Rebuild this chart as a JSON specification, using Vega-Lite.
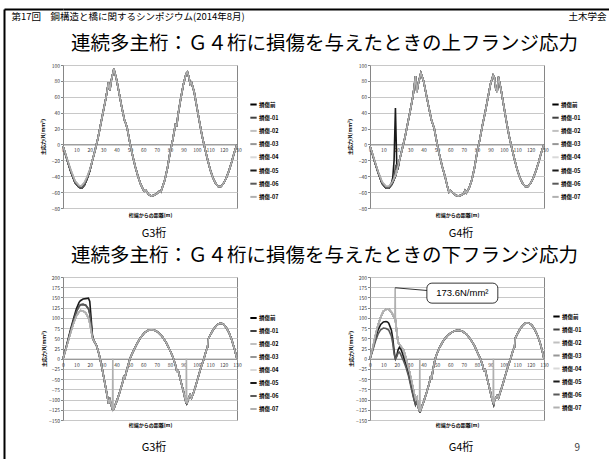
{
"$schema": "https://vega.github.io/schema/vega-lite/v6.json",
"background": "white",
"padding": {"left": 4, "top": 9, "right": 0, "bottom": 0},
"config": {
  "font": "Noto Sans CJK JP",
  "view": {"stroke": "#868686", "strokeWidth": 1},
  "axis": {"labelFontSize": 5, "labelColor": "#404040", "labelFont": "Noto Sans CJK JP", "titleFontSize": 5, "titleColor": "#000000", "titleFontWeight": "bold", "titleFont": "Noto Sans CJK JP", "gridColor": "#c8c8c8", "gridWidth": 1, "tickColor": "#868686", "domainColor": "#868686", "labelOverlap": false},
  "title": {"font": "Noto Sans CJK JP", "fontWeight": "normal", "color": "#000000"},
  "legend": {"labelFont": "Noto Sans CJK JP"}
},
"datasets": {
  "names": [{"key":"s0","name":"損傷前"},{"key":"s1","name":"損傷-01"},{"key":"s2","name":"損傷-02"},{"key":"s3","name":"損傷-03"},{"key":"s4","name":"損傷-04"},{"key":"s5","name":"損傷-05"},{"key":"s6","name":"損傷-06"},{"key":"s7","name":"損傷-07"}],
  "g3u": [
{"x":0,"s0":-2,"s1":-2,"s2":-2,"s3":-2,"s4":-2,"s5":-2,"s6":-2,"s7":-2},
{"x":3,"s0":-19,"s1":-19,"s2":-18,"s3":-18,"s4":-18,"s5":-19,"s6":-19,"s7":-18},
{"x":6,"s0":-35,"s1":-35,"s2":-33,"s3":-33,"s4":-33,"s5":-35,"s6":-35,"s7":-33},
{"x":9,"s0":-48,"s1":-48,"s2":-46,"s3":-46,"s4":-46,"s5":-48,"s6":-48,"s7":-46},
{"x":12,"s0":-54,"s1":-54,"s2":-52,"s3":-52,"s4":-52,"s5":-54,"s6":-54,"s7":-52},
{"x":14,"s0":-55,"s1":-55,"s2":-52,"s3":-52,"s4":-52,"s5":-55,"s6":-55,"s7":-52},
{"x":16,"s0":-51,"s1":-51,"s2":-48,"s3":-48,"s4":-48,"s5":-51,"s6":-51,"s7":-48},
{"x":18,"s0":-43,"s1":-43,"s2":-41,"s3":-41,"s4":-41,"s5":-43,"s6":-43,"s7":-41},
{"x":20,"s0":-33,"s1":-33,"s2":-32,"s3":-32,"s4":-32,"s5":-33,"s6":-33,"s7":-32},
{"x":22,"s0":-20,"s1":-20,"s2":-20,"s3":-20,"s4":-20,"s5":-20,"s6":-20,"s7":-20},
{"x":24,"s0":-7,"s1":-7,"s2":-7,"s3":-7,"s4":-7,"s5":-7,"s6":-7,"s7":-7},
{"x":26,"s0":7,"s1":7,"s2":7,"s3":7,"s4":7,"s5":7,"s6":7,"s7":7},
{"x":28,"s0":24,"s1":24,"s2":24,"s3":24,"s4":24,"s5":24,"s6":24,"s7":24},
{"x":30,"s0":41,"s1":41,"s2":41,"s3":41,"s4":41,"s5":41,"s6":41,"s7":41},
{"x":32,"s0":58,"s1":58,"s2":58,"s3":58,"s4":58,"s5":58,"s6":58,"s7":58},
{"x":34,"s0":78,"s1":78,"s2":78,"s3":78,"s4":78,"s5":78,"s6":78,"s7":78},
{"x":35,"s0":68,"s1":68,"s2":68,"s3":68,"s4":68,"s5":68,"s6":68,"s7":68},
{"x":36,"s0":80,"s1":80,"s2":80,"s3":80,"s4":80,"s5":80,"s6":80,"s7":80},
{"x":38,"s0":95,"s1":95,"s2":95,"s3":95,"s4":95,"s5":95,"s6":95,"s7":95},
{"x":40,"s0":82,"s1":82,"s2":82,"s3":82,"s4":82,"s5":82,"s6":82,"s7":82},
{"x":42,"s0":64,"s1":64,"s2":64,"s3":64,"s4":64,"s5":64,"s6":64,"s7":64},
{"x":44,"s0":46,"s1":46,"s2":46,"s3":46,"s4":46,"s5":46,"s6":46,"s7":46},
{"x":46,"s0":30,"s1":30,"s2":30,"s3":30,"s4":30,"s5":30,"s6":30,"s7":30},
{"x":47,"s0":26,"s1":26,"s2":26,"s3":26,"s4":26,"s5":26,"s6":26,"s7":26},
{"x":48,"s0":20,"s1":20,"s2":20,"s3":20,"s4":20,"s5":20,"s6":20,"s7":20},
{"x":50,"s0":2,"s1":2,"s2":2,"s3":2,"s4":2,"s5":2,"s6":2,"s7":2},
{"x":52,"s0":-14,"s1":-14,"s2":-14,"s3":-14,"s4":-14,"s5":-14,"s6":-14,"s7":-14},
{"x":54,"s0":-28,"s1":-28,"s2":-28,"s3":-28,"s4":-28,"s5":-28,"s6":-28,"s7":-28},
{"x":56,"s0":-40,"s1":-40,"s2":-40,"s3":-40,"s4":-40,"s5":-40,"s6":-40,"s7":-40},
{"x":58,"s0":-50,"s1":-50,"s2":-50,"s3":-50,"s4":-50,"s5":-50,"s6":-50,"s7":-50},
{"x":60,"s0":-57,"s1":-57,"s2":-57,"s3":-57,"s4":-57,"s5":-57,"s6":-57,"s7":-57},
{"x":61,"s0":-59,"s1":-59,"s2":-59,"s3":-59,"s4":-59,"s5":-59,"s6":-59,"s7":-59},
{"x":62,"s0":-58,"s1":-58,"s2":-58,"s3":-58,"s4":-58,"s5":-58,"s6":-58,"s7":-58},
{"x":64,"s0":-63,"s1":-63,"s2":-63,"s3":-63,"s4":-63,"s5":-63,"s6":-63,"s7":-63},
{"x":66,"s0":-65,"s1":-65,"s2":-65,"s3":-65,"s4":-65,"s5":-65,"s6":-65,"s7":-65},
{"x":68,"s0":-64,"s1":-64,"s2":-64,"s3":-64,"s4":-64,"s5":-64,"s6":-64,"s7":-64},
{"x":70,"s0":-62,"s1":-62,"s2":-62,"s3":-62,"s4":-62,"s5":-62,"s6":-62,"s7":-62},
{"x":72,"s0":-59,"s1":-59,"s2":-59,"s3":-59,"s4":-59,"s5":-59,"s6":-59,"s7":-59},
{"x":73,"s0":-60,"s1":-60,"s2":-60,"s3":-60,"s4":-60,"s5":-60,"s6":-60,"s7":-60},
{"x":74,"s0":-55,"s1":-55,"s2":-55,"s3":-55,"s4":-55,"s5":-55,"s6":-55,"s7":-55},
{"x":76,"s0":-45,"s1":-45,"s2":-45,"s3":-45,"s4":-45,"s5":-45,"s6":-45,"s7":-45},
{"x":78,"s0":-30,"s1":-30,"s2":-30,"s3":-30,"s4":-30,"s5":-30,"s6":-30,"s7":-30},
{"x":80,"s0":-10,"s1":-10,"s2":-10,"s3":-10,"s4":-10,"s5":-10,"s6":-10,"s7":-10},
{"x":82,"s0":6,"s1":6,"s2":6,"s3":6,"s4":6,"s5":6,"s6":6,"s7":6},
{"x":84,"s0":25,"s1":25,"s2":25,"s3":25,"s4":25,"s5":25,"s6":25,"s7":25},
{"x":85,"s0":24,"s1":24,"s2":24,"s3":24,"s4":24,"s5":24,"s6":24,"s7":24},
{"x":86,"s0":38,"s1":38,"s2":38,"s3":38,"s4":38,"s5":38,"s6":38,"s7":38},
{"x":88,"s0":58,"s1":58,"s2":58,"s3":58,"s4":58,"s5":58,"s6":58,"s7":58},
{"x":90,"s0":76,"s1":76,"s2":76,"s3":76,"s4":76,"s5":76,"s6":76,"s7":76},
{"x":92,"s0":89,"s1":89,"s2":89,"s3":89,"s4":89,"s5":89,"s6":89,"s7":89},
{"x":93,"s0":91,"s1":91,"s2":91,"s3":91,"s4":91,"s5":91,"s6":91,"s7":91},
{"x":94,"s0":85,"s1":85,"s2":85,"s3":85,"s4":85,"s5":85,"s6":85,"s7":85},
{"x":95,"s0":76,"s1":76,"s2":76,"s3":76,"s4":76,"s5":76,"s6":76,"s7":76},
{"x":96,"s0":78,"s1":78,"s2":78,"s3":78,"s4":78,"s5":78,"s6":78,"s7":78},
{"x":98,"s0":66,"s1":66,"s2":66,"s3":66,"s4":66,"s5":66,"s6":66,"s7":66},
{"x":100,"s0":47,"s1":47,"s2":47,"s3":47,"s4":47,"s5":47,"s6":47,"s7":47},
{"x":102,"s0":28,"s1":28,"s2":28,"s3":28,"s4":28,"s5":28,"s6":28,"s7":28},
{"x":104,"s0":10,"s1":10,"s2":10,"s3":10,"s4":10,"s5":10,"s6":10,"s7":10},
{"x":106,"s0":-5,"s1":-5,"s2":-5,"s3":-5,"s4":-5,"s5":-5,"s6":-5,"s7":-5},
{"x":108,"s0":-19,"s1":-19,"s2":-19,"s3":-19,"s4":-19,"s5":-19,"s6":-19,"s7":-19},
{"x":110,"s0":-32,"s1":-32,"s2":-32,"s3":-32,"s4":-32,"s5":-32,"s6":-32,"s7":-32},
{"x":112,"s0":-42,"s1":-42,"s2":-42,"s3":-42,"s4":-42,"s5":-42,"s6":-42,"s7":-42},
{"x":114,"s0":-49,"s1":-49,"s2":-49,"s3":-49,"s4":-49,"s5":-49,"s6":-49,"s7":-49},
{"x":116,"s0":-53,"s1":-53,"s2":-53,"s3":-53,"s4":-53,"s5":-53,"s6":-53,"s7":-53},
{"x":118,"s0":-53,"s1":-53,"s2":-53,"s3":-53,"s4":-53,"s5":-53,"s6":-53,"s7":-53},
{"x":120,"s0":-49,"s1":-49,"s2":-49,"s3":-49,"s4":-49,"s5":-49,"s6":-49,"s7":-49},
{"x":122,"s0":-42,"s1":-42,"s2":-42,"s3":-42,"s4":-42,"s5":-42,"s6":-42,"s7":-42},
{"x":124,"s0":-33,"s1":-33,"s2":-33,"s3":-33,"s4":-33,"s5":-33,"s6":-33,"s7":-33},
{"x":126,"s0":-22,"s1":-22,"s2":-22,"s3":-22,"s4":-22,"s5":-22,"s6":-22,"s7":-22},
{"x":128,"s0":-10,"s1":-10,"s2":-10,"s3":-10,"s4":-10,"s5":-10,"s6":-10,"s7":-10},
{"x":130,"s0":0,"s1":0,"s2":0,"s3":0,"s4":0,"s5":0,"s6":0,"s7":0}
  ],
  "g4u": [
{"x":0,"s0":-2,"s1":-2,"s2":-2,"s3":-2,"s4":-2,"s5":-2,"s6":-2,"s7":-2},
{"x":3,"s0":-19,"s1":-19,"s2":-18,"s3":-18,"s4":-18,"s5":-19,"s6":-19,"s7":-18},
{"x":6,"s0":-35,"s1":-35,"s2":-34,"s3":-34,"s4":-34,"s5":-35,"s6":-35,"s7":-34},
{"x":9,"s0":-49,"s1":-49,"s2":-47,"s3":-47,"s4":-47,"s5":-49,"s6":-49,"s7":-47},
{"x":12,"s0":-55,"s1":-55,"s2":-53,"s3":-53,"s4":-53,"s5":-55,"s6":-55,"s7":-53},
{"x":14,"s0":-55,"s1":-55,"s2":-53,"s3":-53,"s4":-53,"s5":-55,"s6":-55,"s7":-53},
{"x":16,"s0":-51,"s1":-51,"s2":-49,"s3":-49,"s4":-49,"s5":-49,"s6":-51,"s7":-49},
{"x":17,"s0":-48,"s1":-48,"s2":-46,"s3":-46,"s4":-46,"s5":-42,"s6":-47,"s7":-46},
{"x":18,"s0":-44,"s1":-44,"s2":-42,"s3":-42,"s4":-42,"s5":-20,"s6":-40,"s7":-42},
{"x":19,"s0":-40,"s1":-40,"s2":-38,"s3":-38,"s4":-38,"s5":46,"s6":-28,"s7":-38},
{"x":19.5,"s0":-37,"s1":-37,"s2":-36,"s3":-36,"s4":-36,"s5":10,"s6":-30,"s7":-36},
{"x":20,"s0":-34,"s1":-34,"s2":-33,"s3":-33,"s4":-33,"s5":-25,"s6":-25,"s7":-33},
{"x":21,"s0":-28,"s1":-28,"s2":-27,"s3":-27,"s4":-27,"s5":-29,"s6":-30,"s7":-27},
{"x":22,"s0":-20,"s1":-20,"s2":-20,"s3":-20,"s4":-20,"s5":-20,"s6":-20,"s7":-20},
{"x":24,"s0":-6,"s1":-6,"s2":-6,"s3":-6,"s4":-6,"s5":-6,"s6":-6,"s7":-6},
{"x":26,"s0":8,"s1":8,"s2":8,"s3":8,"s4":8,"s5":8,"s6":8,"s7":8},
{"x":28,"s0":25,"s1":25,"s2":25,"s3":25,"s4":25,"s5":25,"s6":25,"s7":25},
{"x":30,"s0":42,"s1":42,"s2":42,"s3":42,"s4":42,"s5":42,"s6":42,"s7":42},
{"x":32,"s0":60,"s1":60,"s2":60,"s3":60,"s4":60,"s5":60,"s6":60,"s7":60},
{"x":33,"s0":72,"s1":72,"s2":72,"s3":72,"s4":72,"s5":72,"s6":72,"s7":72},
{"x":34,"s0":86,"s1":86,"s2":86,"s3":86,"s4":86,"s5":86,"s6":86,"s7":86},
{"x":35,"s0":66,"s1":66,"s2":66,"s3":66,"s4":66,"s5":66,"s6":66,"s7":66},
{"x":36,"s0":76,"s1":76,"s2":76,"s3":76,"s4":76,"s5":76,"s6":76,"s7":76},
{"x":38,"s0":90,"s1":90,"s2":90,"s3":90,"s4":90,"s5":90,"s6":90,"s7":90},
{"x":40,"s0":80,"s1":80,"s2":80,"s3":80,"s4":80,"s5":80,"s6":80,"s7":80},
{"x":42,"s0":63,"s1":63,"s2":63,"s3":63,"s4":63,"s5":63,"s6":63,"s7":63},
{"x":44,"s0":46,"s1":46,"s2":46,"s3":46,"s4":46,"s5":46,"s6":46,"s7":46},
{"x":46,"s0":30,"s1":30,"s2":30,"s3":30,"s4":30,"s5":30,"s6":30,"s7":30},
{"x":47,"s0":25,"s1":25,"s2":25,"s3":25,"s4":25,"s5":25,"s6":25,"s7":25},
{"x":48,"s0":20,"s1":20,"s2":20,"s3":20,"s4":20,"s5":20,"s6":20,"s7":20},
{"x":50,"s0":2,"s1":2,"s2":2,"s3":2,"s4":2,"s5":2,"s6":2,"s7":2},
{"x":52,"s0":-14,"s1":-14,"s2":-14,"s3":-14,"s4":-14,"s5":-14,"s6":-14,"s7":-14},
{"x":54,"s0":-28,"s1":-28,"s2":-28,"s3":-28,"s4":-28,"s5":-28,"s6":-28,"s7":-28},
{"x":56,"s0":-40,"s1":-40,"s2":-40,"s3":-40,"s4":-40,"s5":-40,"s6":-40,"s7":-40},
{"x":58,"s0":-54,"s1":-54,"s2":-54,"s3":-54,"s4":-54,"s5":-54,"s6":-54,"s7":-54},
{"x":59,"s0":-60,"s1":-60,"s2":-60,"s3":-60,"s4":-60,"s5":-60,"s6":-60,"s7":-60},
{"x":60,"s0":-58,"s1":-58,"s2":-58,"s3":-58,"s4":-58,"s5":-58,"s6":-58,"s7":-58},
{"x":62,"s0":-61,"s1":-61,"s2":-61,"s3":-61,"s4":-61,"s5":-61,"s6":-61,"s7":-61},
{"x":64,"s0":-64,"s1":-64,"s2":-64,"s3":-64,"s4":-64,"s5":-64,"s6":-64,"s7":-64},
{"x":66,"s0":-65,"s1":-65,"s2":-65,"s3":-65,"s4":-65,"s5":-65,"s6":-65,"s7":-65},
{"x":68,"s0":-64,"s1":-64,"s2":-64,"s3":-64,"s4":-64,"s5":-64,"s6":-64,"s7":-64},
{"x":70,"s0":-62,"s1":-62,"s2":-62,"s3":-62,"s4":-62,"s5":-62,"s6":-62,"s7":-62},
{"x":71,"s0":-58,"s1":-58,"s2":-58,"s3":-58,"s4":-58,"s5":-58,"s6":-58,"s7":-58},
{"x":72,"s0":-61,"s1":-61,"s2":-61,"s3":-61,"s4":-61,"s5":-61,"s6":-61,"s7":-61},
{"x":74,"s0":-55,"s1":-55,"s2":-55,"s3":-55,"s4":-55,"s5":-55,"s6":-55,"s7":-55},
{"x":76,"s0":-45,"s1":-45,"s2":-45,"s3":-45,"s4":-45,"s5":-45,"s6":-45,"s7":-45},
{"x":78,"s0":-30,"s1":-30,"s2":-30,"s3":-30,"s4":-30,"s5":-30,"s6":-30,"s7":-30},
{"x":80,"s0":-10,"s1":-10,"s2":-10,"s3":-10,"s4":-10,"s5":-10,"s6":-10,"s7":-10},
{"x":82,"s0":6,"s1":6,"s2":6,"s3":6,"s4":6,"s5":6,"s6":6,"s7":6},
{"x":84,"s0":24,"s1":24,"s2":24,"s3":24,"s4":24,"s5":24,"s6":24,"s7":24},
{"x":86,"s0":40,"s1":40,"s2":40,"s3":40,"s4":40,"s5":40,"s6":40,"s7":40},
{"x":88,"s0":58,"s1":58,"s2":58,"s3":58,"s4":58,"s5":58,"s6":58,"s7":58},
{"x":90,"s0":76,"s1":76,"s2":76,"s3":76,"s4":76,"s5":76,"s6":76,"s7":76},
{"x":92,"s0":87,"s1":87,"s2":87,"s3":87,"s4":87,"s5":87,"s6":87,"s7":87},
{"x":93,"s0":84,"s1":84,"s2":84,"s3":84,"s4":84,"s5":84,"s6":84,"s7":84},
{"x":94,"s0":70,"s1":70,"s2":70,"s3":70,"s4":70,"s5":70,"s6":70,"s7":70},
{"x":95,"s0":66,"s1":66,"s2":66,"s3":66,"s4":66,"s5":66,"s6":66,"s7":66},
{"x":96,"s0":85,"s1":85,"s2":85,"s3":85,"s4":85,"s5":85,"s6":85,"s7":85},
{"x":98,"s0":68,"s1":68,"s2":68,"s3":68,"s4":68,"s5":68,"s6":68,"s7":68},
{"x":100,"s0":48,"s1":48,"s2":48,"s3":48,"s4":48,"s5":48,"s6":48,"s7":48},
{"x":102,"s0":28,"s1":28,"s2":28,"s3":28,"s4":28,"s5":28,"s6":28,"s7":28},
{"x":104,"s0":10,"s1":10,"s2":10,"s3":10,"s4":10,"s5":10,"s6":10,"s7":10},
{"x":106,"s0":-5,"s1":-5,"s2":-5,"s3":-5,"s4":-5,"s5":-5,"s6":-5,"s7":-5},
{"x":108,"s0":-19,"s1":-19,"s2":-19,"s3":-19,"s4":-19,"s5":-19,"s6":-19,"s7":-19},
{"x":110,"s0":-32,"s1":-32,"s2":-32,"s3":-32,"s4":-32,"s5":-32,"s6":-32,"s7":-32},
{"x":112,"s0":-42,"s1":-42,"s2":-42,"s3":-42,"s4":-42,"s5":-42,"s6":-42,"s7":-42},
{"x":114,"s0":-49,"s1":-49,"s2":-49,"s3":-49,"s4":-49,"s5":-49,"s6":-49,"s7":-49},
{"x":116,"s0":-53,"s1":-53,"s2":-53,"s3":-53,"s4":-53,"s5":-53,"s6":-53,"s7":-53},
{"x":118,"s0":-53,"s1":-53,"s2":-53,"s3":-53,"s4":-53,"s5":-53,"s6":-53,"s7":-53},
{"x":120,"s0":-49,"s1":-49,"s2":-49,"s3":-49,"s4":-49,"s5":-49,"s6":-49,"s7":-49},
{"x":122,"s0":-42,"s1":-42,"s2":-42,"s3":-42,"s4":-42,"s5":-42,"s6":-42,"s7":-42},
{"x":124,"s0":-33,"s1":-33,"s2":-33,"s3":-33,"s4":-33,"s5":-33,"s6":-33,"s7":-33},
{"x":126,"s0":-22,"s1":-22,"s2":-22,"s3":-22,"s4":-22,"s5":-22,"s6":-22,"s7":-22},
{"x":128,"s0":-10,"s1":-10,"s2":-10,"s3":-10,"s4":-10,"s5":-10,"s6":-10,"s7":-10},
{"x":130,"s0":0,"s1":0,"s2":0,"s3":0,"s4":0,"s5":0,"s6":0,"s7":0}
  ],
  "g3l": [
{"x":0,"s0":0,"s1":0,"s2":0,"s3":0,"s4":0,"s5":0,"s6":0,"s7":0},
{"x":2,"s0":22,"s1":23,"s2":22,"s3":22,"s4":22,"s5":24,"s6":23,"s7":22},
{"x":4,"s0":45,"s1":47,"s2":45,"s3":45,"s4":45,"s5":50,"s6":47,"s7":45},
{"x":6,"s0":68,"s1":72,"s2":68,"s3":68,"s4":68,"s5":76,"s6":72,"s7":68},
{"x":8,"s0":88,"s1":95,"s2":88,"s3":88,"s4":88,"s5":100,"s6":95,"s7":88},
{"x":10,"s0":105,"s1":115,"s2":105,"s3":105,"s4":105,"s5":122,"s6":115,"s7":105},
{"x":12,"s0":115,"s1":128,"s2":115,"s3":115,"s4":115,"s5":138,"s6":128,"s7":115},
{"x":13,"s0":118,"s1":132,"s2":118,"s3":118,"s4":118,"s5":142,"s6":132,"s7":118},
{"x":15,"s0":117,"s1":133,"s2":117,"s3":117,"s4":117,"s5":146,"s6":133,"s7":117},
{"x":17,"s0":112,"s1":131,"s2":112,"s3":112,"s4":112,"s5":147,"s6":131,"s7":112},
{"x":19,"s0":100,"s1":122,"s2":100,"s3":100,"s4":100,"s5":148,"s6":122,"s7":100},
{"x":20,"s0":88,"s1":110,"s2":88,"s3":88,"s4":88,"s5":140,"s6":110,"s7":88},
{"x":21,"s0":70,"s1":85,"s2":70,"s3":70,"s4":70,"s5":100,"s6":85,"s7":70},
{"x":22,"s0":52,"s1":55,"s2":52,"s3":52,"s4":52,"s5":56,"s6":55,"s7":52},
{"x":23,"s0":44,"s1":44,"s2":44,"s3":44,"s4":44,"s5":44,"s6":44,"s7":44},
{"x":25,"s0":33,"s1":33,"s2":33,"s3":33,"s4":33,"s5":33,"s6":33,"s7":33},
{"x":27,"s0":10,"s1":10,"s2":10,"s3":10,"s4":10,"s5":10,"s6":10,"s7":10},
{"x":29,"s0":-20,"s1":-20,"s2":-20,"s3":-20,"s4":-20,"s5":-20,"s6":-20,"s7":-20},
{"x":31,"s0":-55,"s1":-55,"s2":-55,"s3":-55,"s4":-55,"s5":-55,"s6":-55,"s7":-55},
{"x":33,"s0":-90,"s1":-90,"s2":-90,"s3":-90,"s4":-90,"s5":-90,"s6":-90,"s7":-90},
{"x":34,"s0":-110,"s1":-110,"s2":-110,"s3":-110,"s4":-110,"s5":-110,"s6":-110,"s7":-110},
{"x":35,"s0":-100,"s1":-100,"s2":-100,"s3":-100,"s4":-100,"s5":-100,"s6":-100,"s7":-100},
{"x":36,"s0":-113,"s1":-113,"s2":-113,"s3":-113,"s4":-113,"s5":-113,"s6":-113,"s7":-113},
{"x":37,"s0":-124,"s1":-124,"s2":-124,"s3":-124,"s4":-124,"s5":-124,"s6":-124,"s7":-124},
{"x":37.2,"s0":-125,"s1":-125,"s2":-125,"s3":-125,"s4":-125,"s5":-125,"s6":-125,"s7":0},
{"x":37.4,"s0":-125,"s1":-125,"s2":-125,"s3":-125,"s4":-125,"s5":-125,"s6":-125,"s7":-125},
{"x":38,"s0":-122,"s1":-122,"s2":-122,"s3":-122,"s4":-122,"s5":-122,"s6":-122,"s7":-122},
{"x":40,"s0":-105,"s1":-105,"s2":-105,"s3":-105,"s4":-105,"s5":-105,"s6":-105,"s7":-105},
{"x":42,"s0":-86,"s1":-86,"s2":-86,"s3":-86,"s4":-86,"s5":-86,"s6":-86,"s7":-86},
{"x":44,"s0":-64,"s1":-64,"s2":-64,"s3":-64,"s4":-64,"s5":-64,"s6":-64,"s7":-64},
{"x":45,"s0":-52,"s1":-52,"s2":-52,"s3":-52,"s4":-52,"s5":-52,"s6":-52,"s7":-52},
{"x":45.5,"s0":-42,"s1":-42,"s2":-42,"s3":-42,"s4":-42,"s5":-42,"s6":-42,"s7":-42},
{"x":46,"s0":-50,"s1":-50,"s2":-50,"s3":-50,"s4":-50,"s5":-50,"s6":-50,"s7":-50},
{"x":47,"s0":-36,"s1":-36,"s2":-36,"s3":-36,"s4":-36,"s5":-36,"s6":-36,"s7":-36},
{"x":48,"s0":-24,"s1":-24,"s2":-24,"s3":-24,"s4":-24,"s5":-24,"s6":-24,"s7":-24},
{"x":50,"s0":0,"s1":0,"s2":0,"s3":0,"s4":0,"s5":0,"s6":0,"s7":0},
{"x":52,"s0":15,"s1":15,"s2":15,"s3":15,"s4":15,"s5":15,"s6":15,"s7":15},
{"x":55,"s0":35,"s1":35,"s2":35,"s3":35,"s4":35,"s5":35,"s6":35,"s7":35},
{"x":58,"s0":52,"s1":52,"s2":52,"s3":52,"s4":52,"s5":52,"s6":52,"s7":52},
{"x":61,"s0":64,"s1":64,"s2":64,"s3":64,"s4":64,"s5":64,"s6":64,"s7":64},
{"x":64,"s0":70,"s1":70,"s2":70,"s3":70,"s4":70,"s5":70,"s6":70,"s7":70},
{"x":66,"s0":71,"s1":71,"s2":71,"s3":71,"s4":71,"s5":71,"s6":71,"s7":71},
{"x":68,"s0":70,"s1":70,"s2":70,"s3":70,"s4":70,"s5":70,"s6":70,"s7":70},
{"x":71,"s0":65,"s1":65,"s2":65,"s3":65,"s4":65,"s5":65,"s6":65,"s7":65},
{"x":74,"s0":55,"s1":55,"s2":55,"s3":55,"s4":55,"s5":55,"s6":55,"s7":55},
{"x":77,"s0":40,"s1":40,"s2":40,"s3":40,"s4":40,"s5":40,"s6":40,"s7":40},
{"x":80,"s0":20,"s1":20,"s2":20,"s3":20,"s4":20,"s5":20,"s6":20,"s7":20},
{"x":82,"s0":5,"s1":5,"s2":5,"s3":5,"s4":5,"s5":5,"s6":5,"s7":5},
{"x":84,"s0":-15,"s1":-15,"s2":-15,"s3":-15,"s4":-15,"s5":-15,"s6":-15,"s7":-15},
{"x":85,"s0":-30,"s1":-30,"s2":-30,"s3":-30,"s4":-30,"s5":-30,"s6":-30,"s7":-30},
{"x":86,"s0":-28,"s1":-28,"s2":-28,"s3":-28,"s4":-28,"s5":-28,"s6":-28,"s7":-28},
{"x":88,"s0":-55,"s1":-55,"s2":-55,"s3":-55,"s4":-55,"s5":-55,"s6":-55,"s7":-55},
{"x":90,"s0":-80,"s1":-80,"s2":-80,"s3":-80,"s4":-80,"s5":-80,"s6":-80,"s7":-80},
{"x":91,"s0":-95,"s1":-95,"s2":-95,"s3":-95,"s4":-95,"s5":-95,"s6":-95,"s7":-95},
{"x":92,"s0":-108,"s1":-108,"s2":-108,"s3":-108,"s4":-108,"s5":-108,"s6":-108,"s7":-108},
{"x":92.2,"s0":-109,"s1":-109,"s2":-109,"s3":-109,"s4":-109,"s5":-109,"s6":-109,"s7":0},
{"x":92.4,"s0":-110,"s1":-110,"s2":-110,"s3":-110,"s4":-110,"s5":-110,"s6":-110,"s7":-110},
{"x":93,"s0":-105,"s1":-105,"s2":-105,"s3":-105,"s4":-105,"s5":-105,"s6":-105,"s7":-105},
{"x":94,"s0":-95,"s1":-95,"s2":-95,"s3":-95,"s4":-95,"s5":-95,"s6":-95,"s7":-95},
{"x":95,"s0":-88,"s1":-88,"s2":-88,"s3":-88,"s4":-88,"s5":-88,"s6":-88,"s7":-88},
{"x":96,"s0":-96,"s1":-96,"s2":-96,"s3":-96,"s4":-96,"s5":-96,"s6":-96,"s7":-96},
{"x":97,"s0":-88,"s1":-88,"s2":-88,"s3":-88,"s4":-88,"s5":-88,"s6":-88,"s7":-88},
{"x":99,"s0":-68,"s1":-68,"s2":-68,"s3":-68,"s4":-68,"s5":-68,"s6":-68,"s7":-68},
{"x":101,"s0":-45,"s1":-45,"s2":-45,"s3":-45,"s4":-45,"s5":-45,"s6":-45,"s7":-45},
{"x":103,"s0":-22,"s1":-22,"s2":-22,"s3":-22,"s4":-22,"s5":-22,"s6":-22,"s7":-22},
{"x":105,"s0":-3,"s1":-3,"s2":-3,"s3":-3,"s4":-3,"s5":-3,"s6":-3,"s7":-3},
{"x":107,"s0":20,"s1":20,"s2":20,"s3":20,"s4":20,"s5":20,"s6":20,"s7":20},
{"x":108,"s0":28,"s1":28,"s2":28,"s3":28,"s4":28,"s5":28,"s6":28,"s7":28},
{"x":108.5,"s0":48,"s1":48,"s2":48,"s3":48,"s4":48,"s5":48,"s6":48,"s7":48},
{"x":110,"s0":58,"s1":58,"s2":58,"s3":58,"s4":58,"s5":58,"s6":58,"s7":58},
{"x":112,"s0":70,"s1":70,"s2":70,"s3":70,"s4":70,"s5":70,"s6":70,"s7":70},
{"x":114,"s0":79,"s1":79,"s2":79,"s3":79,"s4":79,"s5":79,"s6":79,"s7":79},
{"x":116,"s0":85,"s1":85,"s2":85,"s3":85,"s4":85,"s5":85,"s6":85,"s7":85},
{"x":118,"s0":87,"s1":87,"s2":87,"s3":87,"s4":87,"s5":87,"s6":87,"s7":87},
{"x":120,"s0":84,"s1":84,"s2":84,"s3":84,"s4":84,"s5":84,"s6":84,"s7":84},
{"x":122,"s0":76,"s1":76,"s2":76,"s3":76,"s4":76,"s5":76,"s6":76,"s7":76},
{"x":124,"s0":64,"s1":64,"s2":64,"s3":64,"s4":64,"s5":64,"s6":64,"s7":64},
{"x":126,"s0":47,"s1":47,"s2":47,"s3":47,"s4":47,"s5":47,"s6":47,"s7":47},
{"x":128,"s0":25,"s1":25,"s2":25,"s3":25,"s4":25,"s5":25,"s6":25,"s7":25},
{"x":130,"s0":0,"s1":0,"s2":0,"s3":0,"s4":0,"s5":0,"s6":0,"s7":0}
  ],
  "g4l": [
{"x":0,"s0":0,"s1":0,"s2":0,"s3":0,"s4":0,"s5":0,"s6":0,"s7":0},
{"x":2,"s0":25,"s1":25,"s2":25,"s3":25,"s4":25,"s5":22,"s6":20,"s7":25},
{"x":4,"s0":55,"s1":55,"s2":55,"s3":55,"s4":55,"s5":48,"s6":42,"s7":55},
{"x":6,"s0":82,"s1":82,"s2":82,"s3":82,"s4":82,"s5":70,"s6":60,"s7":82},
{"x":8,"s0":102,"s1":102,"s2":102,"s3":102,"s4":102,"s5":84,"s6":71,"s7":102},
{"x":10,"s0":116,"s1":116,"s2":116,"s3":116,"s4":116,"s5":90,"s6":75,"s7":116},
{"x":12,"s0":121,"s1":121,"s2":121,"s3":121,"s4":121,"s5":91,"s6":74,"s7":121},
{"x":13,"s0":122,"s1":122,"s2":122,"s3":122,"s4":122,"s5":90,"s6":72,"s7":122},
{"x":14,"s0":121,"s1":121,"s2":121,"s3":121,"s4":121,"s5":87,"s6":70,"s7":121},
{"x":16,"s0":114,"s1":114,"s2":114,"s3":114,"s4":114,"s5":70,"s6":55,"s7":114},
{"x":17,"s0":108,"s1":108,"s2":108,"s3":108,"s4":108,"s5":50,"s6":38,"s7":108},
{"x":18,"s0":100,"s1":100,"s2":100,"s3":100,"s4":100,"s5":20,"s6":12,"s7":100},
{"x":18.6,"s0":98,"s1":98,"s2":98,"s3":98,"s4":98,"s5":6,"s6":4,"s7":98},
{"x":18.8,"s0":97,"s1":97,"s2":97,"s3":97,"s4":97,"s5":3,"s6":2,"s7":173.6},
{"x":19,"s0":95,"s1":95,"s2":95,"s3":95,"s4":95,"s5":0,"s6":0,"s7":95},
{"x":20,"s0":65,"s1":65,"s2":65,"s3":65,"s4":65,"s5":8,"s6":5,"s7":65},
{"x":21,"s0":40,"s1":40,"s2":40,"s3":40,"s4":40,"s5":22,"s6":14,"s7":40},
{"x":22,"s0":35,"s1":35,"s2":35,"s3":35,"s4":35,"s5":28,"s6":16,"s7":35},
{"x":23,"s0":30,"s1":30,"s2":30,"s3":30,"s4":30,"s5":24,"s6":10,"s7":30},
{"x":24,"s0":26,"s1":26,"s2":26,"s3":26,"s4":26,"s5":15,"s6":2,"s7":26},
{"x":25,"s0":22,"s1":22,"s2":22,"s3":22,"s4":22,"s5":5,"s6":-5,"s7":22},
{"x":27,"s0":0,"s1":0,"s2":0,"s3":0,"s4":0,"s5":-18,"s6":-22,"s7":0},
{"x":29,"s0":-25,"s1":-25,"s2":-25,"s3":-25,"s4":-25,"s5":-40,"s6":-45,"s7":-25},
{"x":31,"s0":-55,"s1":-55,"s2":-55,"s3":-55,"s4":-55,"s5":-70,"s6":-75,"s7":-55},
{"x":33,"s0":-85,"s1":-85,"s2":-85,"s3":-85,"s4":-85,"s5":-100,"s6":-102,"s7":-85},
{"x":34,"s0":-100,"s1":-100,"s2":-100,"s3":-100,"s4":-100,"s5":-113,"s6":-112,"s7":-100},
{"x":35,"s0":-95,"s1":-95,"s2":-95,"s3":-95,"s4":-95,"s5":-105,"s6":-106,"s7":-95},
{"x":36,"s0":-118,"s1":-118,"s2":-118,"s3":-118,"s4":-118,"s5":-118,"s6":-118,"s7":-118},
{"x":37,"s0":-128,"s1":-128,"s2":-128,"s3":-128,"s4":-128,"s5":-128,"s6":-128,"s7":-128},
{"x":37.2,"s0":-130,"s1":-130,"s2":-130,"s3":-130,"s4":-130,"s5":-130,"s6":-130,"s7":0},
{"x":37.4,"s0":-130,"s1":-130,"s2":-130,"s3":-130,"s4":-130,"s5":-130,"s6":-130,"s7":-130},
{"x":38,"s0":-124,"s1":-124,"s2":-124,"s3":-124,"s4":-124,"s5":-124,"s6":-124,"s7":-124},
{"x":40,"s0":-106,"s1":-106,"s2":-106,"s3":-106,"s4":-106,"s5":-106,"s6":-106,"s7":-106},
{"x":42,"s0":-86,"s1":-86,"s2":-86,"s3":-86,"s4":-86,"s5":-86,"s6":-86,"s7":-86},
{"x":44,"s0":-63,"s1":-63,"s2":-63,"s3":-63,"s4":-63,"s5":-63,"s6":-63,"s7":-63},
{"x":45,"s0":-50,"s1":-50,"s2":-50,"s3":-50,"s4":-50,"s5":-50,"s6":-50,"s7":-50},
{"x":45.5,"s0":-40,"s1":-40,"s2":-40,"s3":-40,"s4":-40,"s5":-40,"s6":-40,"s7":-40},
{"x":46,"s0":-50,"s1":-50,"s2":-50,"s3":-50,"s4":-50,"s5":-50,"s6":-50,"s7":-50},
{"x":47,"s0":-28,"s1":-28,"s2":-28,"s3":-28,"s4":-28,"s5":-28,"s6":-28,"s7":-28},
{"x":48,"s0":-10,"s1":-10,"s2":-10,"s3":-10,"s4":-10,"s5":-10,"s6":-10,"s7":-10},
{"x":49,"s0":3,"s1":3,"s2":3,"s3":3,"s4":3,"s5":3,"s6":3,"s7":3},
{"x":50,"s0":12,"s1":12,"s2":12,"s3":12,"s4":12,"s5":12,"s6":12,"s7":12},
{"x":52,"s0":28,"s1":28,"s2":28,"s3":28,"s4":28,"s5":28,"s6":28,"s7":28},
{"x":55,"s0":45,"s1":45,"s2":45,"s3":45,"s4":45,"s5":45,"s6":45,"s7":45},
{"x":58,"s0":57,"s1":57,"s2":57,"s3":57,"s4":57,"s5":57,"s6":57,"s7":57},
{"x":60,"s0":62,"s1":62,"s2":62,"s3":62,"s4":62,"s5":62,"s6":62,"s7":62},
{"x":63,"s0":68,"s1":68,"s2":68,"s3":68,"s4":68,"s5":68,"s6":68,"s7":68},
{"x":66,"s0":70,"s1":70,"s2":70,"s3":70,"s4":70,"s5":70,"s6":70,"s7":70},
{"x":69,"s0":67,"s1":67,"s2":67,"s3":67,"s4":67,"s5":67,"s6":67,"s7":67},
{"x":72,"s0":60,"s1":60,"s2":60,"s3":60,"s4":60,"s5":60,"s6":60,"s7":60},
{"x":75,"s0":48,"s1":48,"s2":48,"s3":48,"s4":48,"s5":48,"s6":48,"s7":48},
{"x":78,"s0":32,"s1":32,"s2":32,"s3":32,"s4":32,"s5":32,"s6":32,"s7":32},
{"x":81,"s0":10,"s1":10,"s2":10,"s3":10,"s4":10,"s5":10,"s6":10,"s7":10},
{"x":82.5,"s0":0,"s1":0,"s2":0,"s3":0,"s4":0,"s5":0,"s6":0,"s7":0},
{"x":84,"s0":-15,"s1":-15,"s2":-15,"s3":-15,"s4":-15,"s5":-15,"s6":-15,"s7":-15},
{"x":85,"s0":-28,"s1":-28,"s2":-28,"s3":-28,"s4":-28,"s5":-28,"s6":-28,"s7":-28},
{"x":86,"s0":-26,"s1":-26,"s2":-26,"s3":-26,"s4":-26,"s5":-26,"s6":-26,"s7":-26},
{"x":88,"s0":-55,"s1":-55,"s2":-55,"s3":-55,"s4":-55,"s5":-55,"s6":-55,"s7":-55},
{"x":90,"s0":-82,"s1":-82,"s2":-82,"s3":-82,"s4":-82,"s5":-82,"s6":-82,"s7":-82},
{"x":91,"s0":-97,"s1":-97,"s2":-97,"s3":-97,"s4":-97,"s5":-97,"s6":-97,"s7":-97},
{"x":92,"s0":-108,"s1":-108,"s2":-108,"s3":-108,"s4":-108,"s5":-108,"s6":-108,"s7":-108},
{"x":92.2,"s0":-110,"s1":-110,"s2":-110,"s3":-110,"s4":-110,"s5":-110,"s6":-110,"s7":0},
{"x":92.4,"s0":-112,"s1":-112,"s2":-112,"s3":-112,"s4":-112,"s5":-112,"s6":-112,"s7":-112},
{"x":93,"s0":-102,"s1":-102,"s2":-102,"s3":-102,"s4":-102,"s5":-102,"s6":-102,"s7":-102},
{"x":94,"s0":-95,"s1":-95,"s2":-95,"s3":-95,"s4":-95,"s5":-95,"s6":-95,"s7":-95},
{"x":95,"s0":-90,"s1":-90,"s2":-90,"s3":-90,"s4":-90,"s5":-90,"s6":-90,"s7":-90},
{"x":96,"s0":-96,"s1":-96,"s2":-96,"s3":-96,"s4":-96,"s5":-96,"s6":-96,"s7":-96},
{"x":97,"s0":-85,"s1":-85,"s2":-85,"s3":-85,"s4":-85,"s5":-85,"s6":-85,"s7":-85},
{"x":99,"s0":-65,"s1":-65,"s2":-65,"s3":-65,"s4":-65,"s5":-65,"s6":-65,"s7":-65},
{"x":101,"s0":-42,"s1":-42,"s2":-42,"s3":-42,"s4":-42,"s5":-42,"s6":-42,"s7":-42},
{"x":103,"s0":-20,"s1":-20,"s2":-20,"s3":-20,"s4":-20,"s5":-20,"s6":-20,"s7":-20},
{"x":105,"s0":0,"s1":0,"s2":0,"s3":0,"s4":0,"s5":0,"s6":0,"s7":0},
{"x":107,"s0":22,"s1":22,"s2":22,"s3":22,"s4":22,"s5":22,"s6":22,"s7":22},
{"x":108,"s0":28,"s1":28,"s2":28,"s3":28,"s4":28,"s5":28,"s6":28,"s7":28},
{"x":108.5,"s0":50,"s1":50,"s2":50,"s3":50,"s4":50,"s5":50,"s6":50,"s7":50},
{"x":110,"s0":60,"s1":60,"s2":60,"s3":60,"s4":60,"s5":60,"s6":60,"s7":60},
{"x":112,"s0":72,"s1":72,"s2":72,"s3":72,"s4":72,"s5":72,"s6":72,"s7":72},
{"x":114,"s0":81,"s1":81,"s2":81,"s3":81,"s4":81,"s5":81,"s6":81,"s7":81},
{"x":116,"s0":87,"s1":87,"s2":87,"s3":87,"s4":87,"s5":87,"s6":87,"s7":87},
{"x":117,"s0":88,"s1":88,"s2":88,"s3":88,"s4":88,"s5":88,"s6":88,"s7":88},
{"x":119,"s0":87,"s1":87,"s2":87,"s3":87,"s4":87,"s5":87,"s6":87,"s7":87},
{"x":121,"s0":82,"s1":82,"s2":82,"s3":82,"s4":82,"s5":82,"s6":82,"s7":82},
{"x":123,"s0":72,"s1":72,"s2":72,"s3":72,"s4":72,"s5":72,"s6":72,"s7":72},
{"x":125,"s0":58,"s1":58,"s2":58,"s3":58,"s4":58,"s5":58,"s6":58,"s7":58},
{"x":127,"s0":40,"s1":40,"s2":40,"s3":40,"s4":40,"s5":40,"s6":40,"s7":40},
{"x":129,"s0":15,"s1":15,"s2":15,"s3":15,"s4":15,"s5":15,"s6":15,"s7":15},
{"x":130,"s0":0,"s1":0,"s2":0,"s3":0,"s4":0,"s5":0,"s6":0,"s7":0}
  ],
  "callout": [{"x": 18.8, "y": 173.6, "bx": 42.5, "by": 167, "x1": 42.5, "x2": 95.5, "y1": 136, "y2": 185, "tx": 69, "ty": 160.5, "label": "173.6N/mm²"}]
},
"bounds": "flush",
"spacing": 0,
"hconcat": [
  {
    "width": 59, "height": 450,
    "view": {"stroke": null},
    "data": {"values": []},
    "mark": "point",
    "encoding": {
      "x": {"field": "fx", "type": "quantitative", "scale": {"domain": [0, 1]}, "axis": {"orient": "top", "domain": true, "domainColor": "#000000", "domainWidth": 2, "ticks": false, "labels": false, "grid": false, "title": "第17回　鋼構造と橋に関するシンポジウム(2014年8月)", "titleX": 7, "titleY": 7, "titleAlign": "left", "titleAngle": 0, "titleBaseline": "middle", "titleFontSize": 9.5, "titleFontWeight": "normal", "titleLimit": 1000}},
      "y": {"field": "fy", "type": "quantitative", "scale": {"domain": [0, 1]}, "axis": {"orient": "left", "domain": true, "domainColor": "#000000", "domainWidth": 2, "ticks": false, "labels": false, "grid": false, "title": null}}
    }
  },
  {
    "spacing": 0,
    "bounds": "flush",
    "vconcat": [
      {
        "width": 546, "height": 0.01,
        "view": {"stroke": null},
        "data": {"values": []},
        "mark": "point",
        "encoding": {
          "x": {"field": "fx", "type": "quantitative", "scale": {"domain": [0, 1]}, "axis": {"orient": "top", "domain": true, "domainColor": "#000000", "domainWidth": 2, "ticks": false, "labels": false, "grid": false, "title": "土木学会", "titleX": 543, "titleY": 7, "titleAlign": "right", "titleAngle": 0, "titleBaseline": "middle", "titleFontSize": 9.5, "titleFontWeight": "normal", "titleLimit": 1000}}
        }
      },
      {
        "columns": 2,
        "spacing": {"row": 33, "column": 133},
        "bounds": "flush",
        "resolve": {"scale": {"color": "independent"}, "legend": {"color": "independent"}},
        "concat": [
          {"width": 174, "height": 22, "view": {"stroke": null}, "data": {"values": []}, "mark": "point",
           "title": {"text": "連続多主桁：Ｇ４桁に損傷を与えたときの上フランジ応力", "anchor": "start", "frame": "group", "orient": "bottom", "offset": 12, "dx": 8, "baseline": "middle", "fontSize": 19.5}},
          {"width": 174, "height": 22, "view": {"stroke": null}, "data": {"values": []}, "mark": "point"},
          {
            "width": 174, "height": 143,
            "data": {"name": "g3u"},
            "transform": [{"fold": ["s0","s1","s2","s3","s4","s5","s6","s7"], "as": ["key", "value"]}, {"lookup": "key", "from": {"data": {"name": "names"}, "key": "key", "fields": ["name"]}}],
            "mark": {"type": "line", "strokeWidth": 1.6},
            "encoding": {
              "x": {"field": "x", "type": "quantitative", "scale": {"domain": [0, 130], "nice": false, "zero": false}, "axis": {"values": [0,10,20,30,40,50,60,70,80,90,100,110,120,130], "offset": -63.6, "grid": false, "ticks": false, "domain": true, "labelPadding": 3, "labelFlush": false, "labelOverlap": false, "title": "桁端からの距離(m)", "titleY": 69.6, "titleBaseline": "middle"}},
              "y": {"field": "value", "type": "quantitative", "scale": {"domain": [-80, 100], "nice": false, "zero": false}, "axis": {"values": [-80,-60,-40,-20,0,20,40,60,80,100], "grid": true, "tickSize": 2.5, "domain": false, "labelPadding": 1, "labelOverlap": false, "title": "主応力(N/mm²)", "titleX": -21, "titleBaseline": "middle", "titleAngle": -90}},
              "color": {"field": "name", "type": "nominal", "scale": {"domain": ["損傷前","損傷-01","損傷-02","損傷-03","損傷-04","損傷-05","損傷-06","損傷-07"], "range": ["#000000","#404040","#c0c0c0","#969696","#d9d9d9","#1a1a1a","#595959","#b0b0b0"]}, "legend": {"orient": "none", "legendX": 186, "legendY": 35, "title": null, "symbolType": "stroke", "symbolSize": 40, "symbolStrokeWidth": 2, "labelFontSize": 5.5, "labelFontWeight": "bold", "labelColor": "#000000", "rowPadding": 4.2, "labelOffset": 1, "padding": 0}}
            },
            "title": {"text": "G3桁", "orient": "bottom", "anchor": "middle", "frame": "group", "dx": 4, "offset": 17, "baseline": "middle", "fontSize": 11}
          },
          {
            "width": 174, "height": 143,
            "data": {"name": "g4u"},
            "transform": [{"fold": ["s0","s1","s2","s3","s4","s5","s6","s7"], "as": ["key", "value"]}, {"lookup": "key", "from": {"data": {"name": "names"}, "key": "key", "fields": ["name"]}}],
            "mark": {"type": "line", "strokeWidth": 1.6},
            "encoding": {
              "x": {"field": "x", "type": "quantitative", "scale": {"domain": [0, 130], "nice": false, "zero": false}, "axis": {"values": [0,10,20,30,40,50,60,70,80,90,100,110,120,130], "offset": -63.6, "grid": false, "ticks": false, "domain": true, "labelPadding": 3, "labelFlush": false, "labelOverlap": false, "title": "桁端からの距離(m)", "titleY": 69.6, "titleBaseline": "middle"}},
              "y": {"field": "value", "type": "quantitative", "scale": {"domain": [-80, 100], "nice": false, "zero": false}, "axis": {"values": [-80,-60,-40,-20,0,20,40,60,80,100], "grid": true, "tickSize": 2.5, "domain": false, "labelPadding": 1, "labelOverlap": false, "title": "主応力(N/mm²)", "titleX": -21, "titleBaseline": "middle", "titleAngle": -90}},
              "color": {"field": "name", "type": "nominal", "scale": {"domain": ["損傷前","損傷-01","損傷-02","損傷-03","損傷-04","損傷-05","損傷-06","損傷-07"], "range": ["#000000","#404040","#c0c0c0","#969696","#d9d9d9","#1a1a1a","#595959","#b0b0b0"]}, "legend": {"orient": "none", "legendX": 181, "legendY": 35, "title": null, "symbolType": "stroke", "symbolSize": 40, "symbolStrokeWidth": 2, "labelFontSize": 5.5, "labelFontWeight": "bold", "labelColor": "#000000", "rowPadding": 4.2, "labelOffset": 1, "padding": 0}}
            },
            "title": {"text": "G4桁", "orient": "bottom", "anchor": "middle", "frame": "group", "dx": 4, "offset": 17, "baseline": "middle", "fontSize": 11}
          },
          {"width": 174, "height": 3, "view": {"stroke": null}, "data": {"values": []}, "mark": "point",
           "title": {"text": "連続多主桁：Ｇ４桁に損傷を与えたときの下フランジ応力", "anchor": "start", "frame": "group", "orient": "bottom", "offset": 12, "dx": 8, "baseline": "middle", "fontSize": 19.5}},
          {"width": 174, "height": 3, "view": {"stroke": null}, "data": {"values": []}, "mark": "point"},
          {
            "width": 174, "height": 143,
            "data": {"name": "g3l"},
            "transform": [{"fold": ["s0","s1","s2","s3","s4","s5","s6","s7"], "as": ["key", "value"]}, {"lookup": "key", "from": {"data": {"name": "names"}, "key": "key", "fields": ["name"]}}],
            "mark": {"type": "line", "strokeWidth": 1.6},
            "encoding": {
              "x": {"field": "x", "type": "quantitative", "scale": {"domain": [0, 130], "nice": false, "zero": false}, "axis": {"values": [0,10,20,30,40,50,60,70,80,90,100,110,120,130], "offset": -61.3, "grid": false, "ticks": false, "domain": true, "labelPadding": 4, "labelFlush": false, "labelOverlap": false, "title": "桁端からの距離(m)", "titleY": 65.3, "titleBaseline": "middle"}},
              "y": {"field": "value", "type": "quantitative", "scale": {"domain": [-150, 200], "nice": false, "zero": false}, "axis": {"values": [-150,-125,-100,-75,-50,-25,0,25,50,75,100,125,150,175,200], "grid": true, "tickSize": 2.5, "domain": false, "labelPadding": 1, "labelOverlap": false, "title": "主応力(N/mm²)", "titleX": -20, "titleBaseline": "middle", "titleAngle": -90}},
              "color": {"field": "name", "type": "nominal", "scale": {"domain": ["損傷前","損傷-01","損傷-02","損傷-03","損傷-04","損傷-05","損傷-06","損傷-07"], "range": ["#000000","#404040","#c0c0c0","#969696","#d9d9d9","#1a1a1a","#595959","#b0b0b0"]}, "legend": {"orient": "none", "legendX": 186, "legendY": 36.5, "title": null, "symbolType": "stroke", "symbolSize": 40, "symbolStrokeWidth": 2, "labelFontSize": 5.5, "labelFontWeight": "bold", "labelColor": "#000000", "rowPadding": 4, "labelOffset": 1, "padding": 0}}
            },
            "title": {"text": "G3桁", "orient": "bottom", "anchor": "middle", "frame": "group", "dx": 4, "offset": 21, "baseline": "middle", "fontSize": 11}
          },
          {
            "width": 174, "height": 143,
            "layer": [
              {
                "data": {"name": "g4l"},
                "transform": [{"fold": ["s0","s1","s2","s3","s4","s5","s6","s7"], "as": ["key", "value"]}, {"lookup": "key", "from": {"data": {"name": "names"}, "key": "key", "fields": ["name"]}}],
                "mark": {"type": "line", "strokeWidth": 1.6},
                "encoding": {
                  "x": {"field": "x", "type": "quantitative", "scale": {"domain": [0, 130], "nice": false, "zero": false}, "axis": {"values": [0,10,20,30,40,50,60,70,80,90,100,110,120,130], "offset": -61.3, "grid": false, "ticks": false, "domain": true, "labelPadding": 4, "labelFlush": false, "labelOverlap": false, "title": "桁端からの距離(m)", "titleY": 65.3, "titleBaseline": "middle"}},
                  "y": {"field": "value", "type": "quantitative", "scale": {"domain": [-150, 200], "nice": false, "zero": false}, "axis": {"values": [-150,-125,-100,-75,-50,-25,0,25,50,75,100,125,150,175,200], "grid": true, "tickSize": 2.5, "domain": false, "labelPadding": 1, "labelOverlap": false, "title": "主応力(N/mm²)", "titleX": -20, "titleBaseline": "middle", "titleAngle": -90}},
                  "color": {"field": "name", "type": "nominal", "scale": {"domain": ["損傷前","損傷-01","損傷-02","損傷-03","損傷-04","損傷-05","損傷-06","損傷-07"], "range": ["#000000","#404040","#c0c0c0","#969696","#d9d9d9","#1a1a1a","#595959","#b0b0b0"]}, "legend": {"orient": "none", "legendX": 182, "legendY": 35, "title": null, "symbolType": "stroke", "symbolSize": 40, "symbolStrokeWidth": 2, "labelFontSize": 5.5, "labelFontWeight": "bold", "labelColor": "#000000", "rowPadding": 4, "labelOffset": 1, "padding": 0}}
                }
              },
              {
                "data": {"name": "callout"},
                "mark": {"type": "rule", "color": "#000000", "strokeWidth": 0.8},
                "encoding": {
                  "x": {"field": "x", "type": "quantitative", "scale": {"domain": [0, 130], "nice": false, "zero": false}, "axis": {"values": [0,10,20,30,40,50,60,70,80,90,100,110,120,130], "offset": -61.3, "grid": false, "ticks": false, "domain": true, "labelPadding": 4, "labelFlush": false, "labelOverlap": false, "title": "桁端からの距離(m)", "titleY": 65.3, "titleBaseline": "middle"}},
                  "y": {"field": "y", "type": "quantitative", "scale": {"domain": [-150, 200], "nice": false, "zero": false}, "axis": {"values": [-150,-125,-100,-75,-50,-25,0,25,50,75,100,125,150,175,200], "grid": true, "tickSize": 2.5, "domain": false, "labelPadding": 1, "labelOverlap": false, "title": "主応力(N/mm²)", "titleX": -20, "titleBaseline": "middle", "titleAngle": -90}},
                  "x2": {"field": "bx"}, "y2": {"field": "by"}}
              },
              {
                "data": {"name": "callout"},
                "mark": {"type": "rect", "fill": "#ffffff", "stroke": "#000000", "strokeWidth": 0.8, "cornerRadius": 5},
                "encoding": {
                  "x": {"field": "x1", "type": "quantitative", "scale": {"domain": [0, 130], "nice": false, "zero": false}, "axis": {"values": [0,10,20,30,40,50,60,70,80,90,100,110,120,130], "offset": -61.3, "grid": false, "ticks": false, "domain": true, "labelPadding": 4, "labelFlush": false, "labelOverlap": false, "title": "桁端からの距離(m)", "titleY": 65.3, "titleBaseline": "middle"}},
                  "y": {"field": "y1", "type": "quantitative", "scale": {"domain": [-150, 200], "nice": false, "zero": false}, "axis": {"values": [-150,-125,-100,-75,-50,-25,0,25,50,75,100,125,150,175,200], "grid": true, "tickSize": 2.5, "domain": false, "labelPadding": 1, "labelOverlap": false, "title": "主応力(N/mm²)", "titleX": -20, "titleBaseline": "middle", "titleAngle": -90}},
                  "x2": {"field": "x2"}, "y2": {"field": "y2"}}
              },
              {
                "data": {"name": "callout"},
                "mark": {"type": "text", "font": "Liberation Sans", "fontSize": 9.5, "color": "#000000", "align": "center", "baseline": "middle"},
                "encoding": {
                  "x": {"field": "tx", "type": "quantitative", "scale": {"domain": [0, 130], "nice": false, "zero": false}, "axis": {"values": [0,10,20,30,40,50,60,70,80,90,100,110,120,130], "offset": -61.3, "grid": false, "ticks": false, "domain": true, "labelPadding": 4, "labelFlush": false, "labelOverlap": false, "title": "桁端からの距離(m)", "titleY": 65.3, "titleBaseline": "middle"}},
                  "y": {"field": "ty", "type": "quantitative", "scale": {"domain": [-150, 200], "nice": false, "zero": false}, "axis": {"values": [-150,-125,-100,-75,-50,-25,0,25,50,75,100,125,150,175,200], "grid": true, "tickSize": 2.5, "domain": false, "labelPadding": 1, "labelOverlap": false, "title": "主応力(N/mm²)", "titleX": -20, "titleBaseline": "middle", "titleAngle": -90}},
                  "text": {"field": "label"}}
              }
            ],
            "title": {"text": "G4桁", "orient": "bottom", "anchor": "middle", "frame": "group", "dx": 4, "offset": 21, "baseline": "middle", "fontSize": 11}
          },
          {"width": 174, "height": 1, "view": {"stroke": null}, "data": {"values": []}, "mark": "point"},
          {"width": 174, "height": 1, "view": {"stroke": null}, "data": {"values": []}, "mark": "point",
           "title": {"text": "9", "anchor": "end", "frame": "group", "orient": "top", "offset": -5, "dx": 36, "baseline": "middle", "fontSize": 10, "color": "#404040"}}
        ]
      }
    ]
  }
]
}
